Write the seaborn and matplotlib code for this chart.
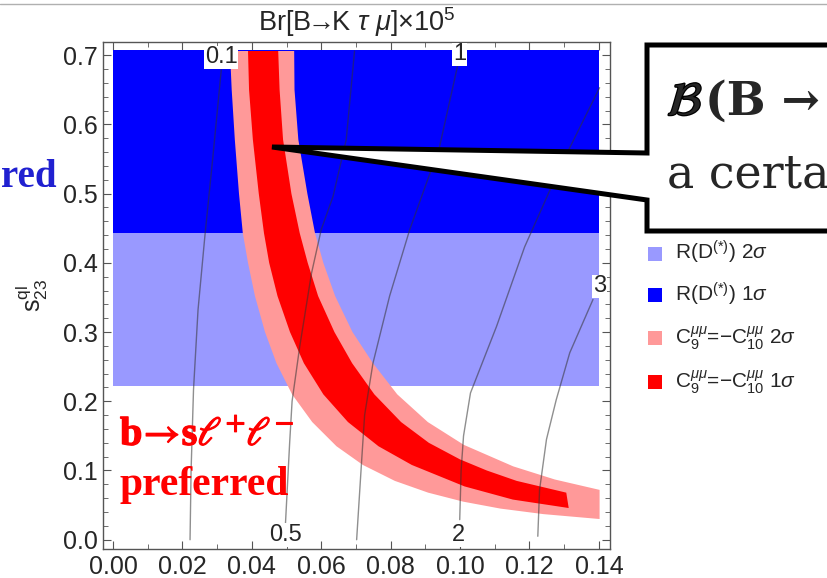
import matplotlib
matplotlib.use('Agg')
import matplotlib.pyplot as plt
import matplotlib.patheffects as pe
from matplotlib.patches import Polygon, Rectangle
from matplotlib.lines import Line2D
from matplotlib.ticker import MultipleLocator, FormatStrFormatter
import seaborn as sns

# R(D*) preferred s23 ranges, for 0 <= x <= 0.14
rd_x = [0.0, 0.14]
rd_2s = [0.2216, 0.443]
rd_1s = [0.443, 0.7071]

# C9 = -C10 bands, edges
c9_1s_up_x = [0.0476, 0.0480, 0.0490, 0.0514, 0.0538, 0.0561, 0.0591, 0.0638, 0.0689, 0.0753, 0.0830, 0.0910, 0.1000, 0.1077, 0.1163, 0.1306]
c9_1s_up_y = [0.706, 0.650, 0.578, 0.500, 0.443, 0.400, 0.352, 0.300, 0.255, 0.210, 0.170, 0.140, 0.116, 0.100, 0.085, 0.068]
c9_1s_lo_x = [0.0389, 0.0392, 0.0403, 0.0420, 0.0435, 0.0450, 0.0474, 0.0510, 0.0550, 0.0606, 0.0677, 0.0765, 0.0861, 0.1013, 0.1152, 0.1313]
c9_1s_lo_y = [0.706, 0.650, 0.578, 0.500, 0.443, 0.400, 0.352, 0.300, 0.255, 0.210, 0.170, 0.135, 0.108, 0.077, 0.058, 0.0458]

c9_2s_up_x = [0.0522, 0.0523, 0.0534, 0.0560, 0.0582, 0.0606, 0.0640, 0.0690, 0.0749, 0.0819, 0.0907, 0.1011, 0.1153, 0.1273, 0.1402]
c9_2s_up_y = [0.706, 0.650, 0.578, 0.500, 0.443, 0.400, 0.352, 0.300, 0.255, 0.210, 0.170, 0.137, 0.106, 0.087, 0.072]
c9_2s_lo_x = [0.0337, 0.0342, 0.0351, 0.0363, 0.0374, 0.0389, 0.0409, 0.0438, 0.0471, 0.0516, 0.0574, 0.0644, 0.0720, 0.0812, 0.0908, 0.1009, 0.1116, 0.1240, 0.1402]
c9_2s_lo_y = [0.706, 0.650, 0.578, 0.500, 0.443, 0.400, 0.352, 0.300, 0.255, 0.210, 0.170, 0.135, 0.108, 0.085, 0.068, 0.055, 0.045, 0.037, 0.0299]

# Br[B -> K tau mu] x 10^5 contour lines
br01_x = [0.0222, 0.0225, 0.0232, 0.0245, 0.0265, 0.0288, 0.0312]
br01_y = [0.0, 0.10, 0.217, 0.332, 0.440, 0.554, 0.679]
br05_x = [0.0497, 0.0509, 0.0516, 0.0538, 0.0572, 0.0600, 0.0634, 0.0672, 0.0696]
br05_y = [0.024, 0.140, 0.200, 0.279, 0.385, 0.448, 0.496, 0.578, 0.706]
br1_x = [0.0702, 0.0716, 0.0725, 0.0749, 0.0797, 0.0855, 0.0941, 0.0993]
br1_y = [0.0, 0.111, 0.180, 0.255, 0.352, 0.448, 0.568, 0.685]
br2_x = [0.0999, 0.1003, 0.1010, 0.1030, 0.1105, 0.1186, 0.1290, 0.1402]
br2_y = [0.029, 0.100, 0.150, 0.212, 0.308, 0.423, 0.540, 0.653]
br3_x = [0.1224, 0.1229, 0.1249, 0.1277, 0.1316, 0.1383]
br3_y = [0.005, 0.072, 0.145, 0.202, 0.270, 0.347]

contour_labels = ['0.1', '0.5', '1', '2', '3']
label_x = [0.0312, 0.0497, 0.0999, 0.0996, 0.1402]
label_y = [0.697, 0.007, 0.701, 0.007, 0.366]

legend_labels = [r'R(D$^{(*)}$) 2$\sigma$', r'R(D$^{(*)}$) 1$\sigma$',
                 r'C$_9^{\mu\mu}$=$-$C$_{10}^{\mu\mu}$ 2$\sigma$',
                 r'C$_9^{\mu\mu}$=$-$C$_{10}^{\mu\mu}$ 1$\sigma$']
legend_colors = ['#9999ff', '#0000ff', '#ff9999', '#ff0000']

sns.set_style('ticks')
plt.rcParams['font.family'] = ['Liberation Sans', 'DejaVu Sans']
plt.rcParams['mathtext.fontset'] = 'custom'
plt.rcParams['mathtext.rm'] = 'Liberation Sans'
plt.rcParams['mathtext.it'] = 'Liberation Sans:italic'
plt.rcParams['mathtext.bf'] = 'Liberation Sans:bold'

W, H = 828, 578
fig = plt.figure(figsize=(W / 100, H / 100), dpi=100)
ax = fig.add_axes([103 / W, 1 - 549 / H, 507 / W, 507 / H])

ax.fill_between(rd_x, rd_2s[0], rd_2s[1], color='#9999ff', lw=0)
ax.fill_between(rd_x, rd_1s[0], rd_1s[1], color='#0000ff', lw=0)
ax.fill(c9_2s_up_x + c9_2s_lo_x[::-1], c9_2s_up_y + c9_2s_lo_y[::-1], color='#ff9999', lw=0)
ax.fill(c9_1s_up_x + c9_1s_lo_x[::-1], c9_1s_up_y + c9_1s_lo_y[::-1], color='#ff0000', lw=0)

for xs, ys in [(br01_x, br01_y), (br05_x, br05_y), (br1_x, br1_y), (br2_x, br2_y), (br3_x, br3_y)]:
    sns.lineplot(x=xs, y=ys, sort=False, ax=ax, color='#333333', alpha=0.55, lw=1.0)

for t, lx, ly in zip(contour_labels, label_x, label_y):
    ax.text(lx, ly, t, fontsize=17, ha='center', va='center', zorder=5,
            bbox=dict(facecolor='white', edgecolor='none', pad=0.5))

ax.set_xlim(-0.00288, 0.1432)
ax.set_ylim(-0.0134, 0.719)
ax.xaxis.set_major_locator(MultipleLocator(0.02))
ax.xaxis.set_minor_locator(MultipleLocator(0.01))
ax.yaxis.set_major_locator(MultipleLocator(0.1))
ax.yaxis.set_minor_locator(MultipleLocator(0.02))
ax.xaxis.set_major_formatter(FormatStrFormatter('%.2f'))
ax.yaxis.set_major_formatter(FormatStrFormatter('%.1f'))
ax.tick_params(which='both', direction='in', top=True, right=True, color='#555555', labelsize=18)
ax.tick_params(which='major', length=6, width=0.8, pad=4)
ax.tick_params(which='minor', length=3.5, width=0.6)
for s in ax.spines.values():
    s.set_color('#555555')
    s.set_linewidth(1.0)

ax.set_title(r'Br[B$\!\!\rightarrow\!\!$K $\tau$ $\mu$]×10$^5$', fontsize=19.5, pad=8)
ax.set_ylabel(r's$_{23}^{\mathrm{ql}}$', fontsize=18)
ax.yaxis.set_label_coords(-0.105, 0.5)

bold = [pe.withStroke(linewidth=0.9, foreground='red')]
fig.text(120 / W, 1 - 445 / H, r'b$\!\rightarrow\!$s$\ell^{\!+}\!\ell^{\!-}$', fontsize=29, fontweight='bold',
         color='red', family=['Liberation Serif', 'DejaVu Serif'], math_fontfamily='stix',
         ha='left', va='baseline', path_effects=bold)
fig.text(120 / W, 1 - 495 / H, 'preferred', fontsize=30, fontweight='bold', color='red',
         family=['Liberation Serif', 'DejaVu Serif'], ha='left', va='baseline')

fig.text(1 / W, 1 - 187 / H, 'red', fontsize=28, fontweight='bold', color='#2020d0',
         family=['Liberation Serif', 'DejaVu Serif'], ha='left', va='baseline')

# legend
for i, (lab, col) in enumerate(zip(legend_labels, legend_colors)):
    cy = [254, 295, 338, 382][i]
    fig.add_artist(Rectangle((648 / W, 1 - (cy + 7) / H), 14 / W, 14 / H,
                             transform=fig.transFigure, color=col, lw=0))
    fig.text(675 / W, 1 - (cy + 6) / H, lab, fontsize=15, va='baseline', ha='left')

# call-out box
pts = [(272, 147), (647, 153), (647, 45), (840, 45), (840, 231), (647, 231), (647, 200)]
fig.add_artist(Polygon([(x / W, 1 - y / H) for x, y in pts], closed=True, transform=fig.transFigure,
                       facecolor='white', edgecolor='black', lw=3.6, joinstyle='miter', zorder=6))
fig.text(667 / W, 1 - 115 / H, r'$\mathcal{B}$', fontsize=34, math_fontfamily='stix', va='baseline',
         zorder=7, path_effects=[pe.withStroke(linewidth=1.8, foreground='black')])
fig.text(705 / W, 1 - 115 / H, '(B →', fontsize=33, fontweight='bold',
         family=['DejaVu Serif', 'DejaVu Sans'], va='baseline', zorder=7)
fig.text(667 / W, 1 - 187 / H, 'a certa', fontsize=33,
         family=['DejaVu Serif', 'DejaVu Sans'], va='baseline', zorder=7)

fig.add_artist(Line2D([0, 1], [1 - 4 / H] * 2, transform=fig.transFigure, color='#b0b0b0', lw=1))

fig.savefig('out.png', dpi=100)
